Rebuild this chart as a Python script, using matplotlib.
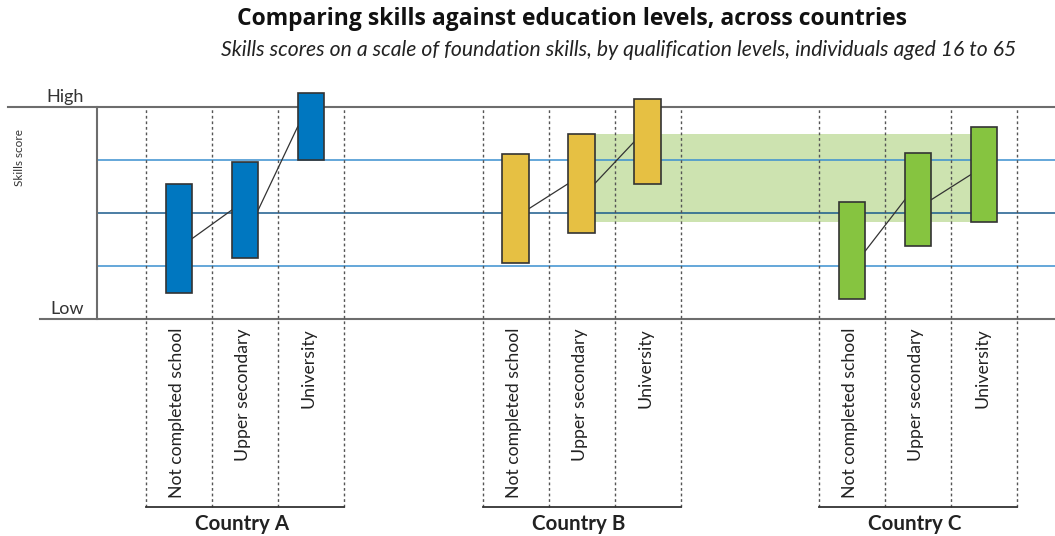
import matplotlib.pyplot as plt
from matplotlib.patches import Rectangle

plt.rcParams['font.family'] = ['Lato', 'DejaVu Sans']

# Data (skills score, 0 = low, 100 = high)
countries = ['Country A', 'Country B', 'Country C']
levels = ['Not completed school', 'Upper secondary', 'University']
low_a = [12.4, 28.9, 75.1]
high_a = [63.5, 73.9, 106.5]
low_b = [26.3, 40.4, 63.5]
high_b = [77.7, 87.4, 103.9]
low_c = [9.3, 34.4, 45.9]
high_c = [55.0, 78.2, 90.4]
band_low = 45.9
band_high = 87.5
ref_lines = [25, 50, 75]

lows = [low_a, low_b, low_c]
highs = [high_a, high_b, high_c]
colors = ['#0077c0', '#e6c043', '#86c440']
group_start = [0, 5.1, 10.2]
bar_w = 0.4

fig = plt.figure(figsize=(10.55, 5.36), dpi=100)
ax = fig.add_axes([97 / 1055, 1 - 319 / 536, 958 / 1055, 212 / 536])
ax.set_xlim(-0.742, 13.773)
ax.set_ylim(0, 100)
ax.axis('off')

# shaded band
ax.add_patch(Rectangle((group_start[1] + 1.5 - bar_w / 2, band_low),
                       group_start[2] + 2.5 + bar_w / 2 - (group_start[1] + 1.5 - bar_w / 2),
                       band_high - band_low, color='#cde3b0', lw=0, zorder=1))

# reference lines
ax.axhline(ref_lines[0], color='#3a8fd0', lw=1.1, zorder=2)
ax.axhline(ref_lines[2], color='#3a8fd0', lw=1.1, zorder=2)
ax.axhline(ref_lines[1], color='#1a5a8c', lw=1.1, zorder=2)

# frame lines
ax.plot([-2.09, 13.773], [100, 100], color='#6d6d6d', lw=1.5, clip_on=False, zorder=3)
ax.plot([-1.6, 13.773], [0, 0], color='#6d6d6d', lw=1.5, clip_on=False, zorder=3)
ax.plot([-0.742, -0.742], [0, 100], color='#6d6d6d', lw=1.5, clip_on=False, zorder=3)

ax.text(-0.94, 104.7, 'High', ha='right', va='center', fontsize=13, color='#333333')
ax.text(-0.94, 4.7, 'Low', ha='right', va='center', fontsize=13, color='#333333')
ax.text(-1.91, 76.4, 'Skills score', ha='center', va='center', rotation=90,
        fontsize=8.5, color='#333333')

base = -88.7
for g, name in enumerate(countries):
    x0 = group_start[g]
    for k in range(4):
        ax.plot([x0 + k, x0 + k], [base, 100], color='#555555', lw=1,
                ls=(0, (2, 2)), clip_on=False, zorder=3)
    ax.plot([x0, x0 + 3], [base, base], color='#333333', lw=1.3, clip_on=False, zorder=3)
    ax.text(x0 + 1.45, -96.7, name, ha='center', va='center', fontsize=14.8,
            fontweight='bold', color='#222222')

    xs = [x0 + i + 0.5 for i in range(3)]
    lo, hi = lows[g], highs[g]
    mids = [(a + b) / 2 for a, b in zip(lo, hi)]
    ax.bar(xs, [h - l for l, h in zip(lo, hi)], bottom=lo, width=bar_w,
           color=colors[g], edgecolor='#333333', lw=1.2, zorder=5, clip_on=False)
    for i in range(2):
        ax.plot([xs[i] + bar_w / 2, xs[i + 1] - bar_w / 2], [mids[i], mids[i + 1]],
                color='#333333', lw=0.9, zorder=4)
    for i, lab in enumerate(levels):
        ax.text(xs[i] - 0.03, -4.2, lab, ha='center', va='top', rotation=90,
                fontsize=12.7, color='#222222')

fig.text(0.542, 1 - 19 / 536, 'Comparing skills against education levels, across countries',
         ha='center', va='center', fontsize=16.5, fontweight='bold', color='#111111',
         family=['Open Sans', 'DejaVu Sans'])
fig.text(0.586, 1 - 50 / 536,
         'Skills scores on a scale of foundation skills, by qualification levels, individuals aged 16 to 65',
         ha='center', va='center', fontsize=15.2, style='italic', color='#222222')

fig.savefig('out.png', dpi=100)
